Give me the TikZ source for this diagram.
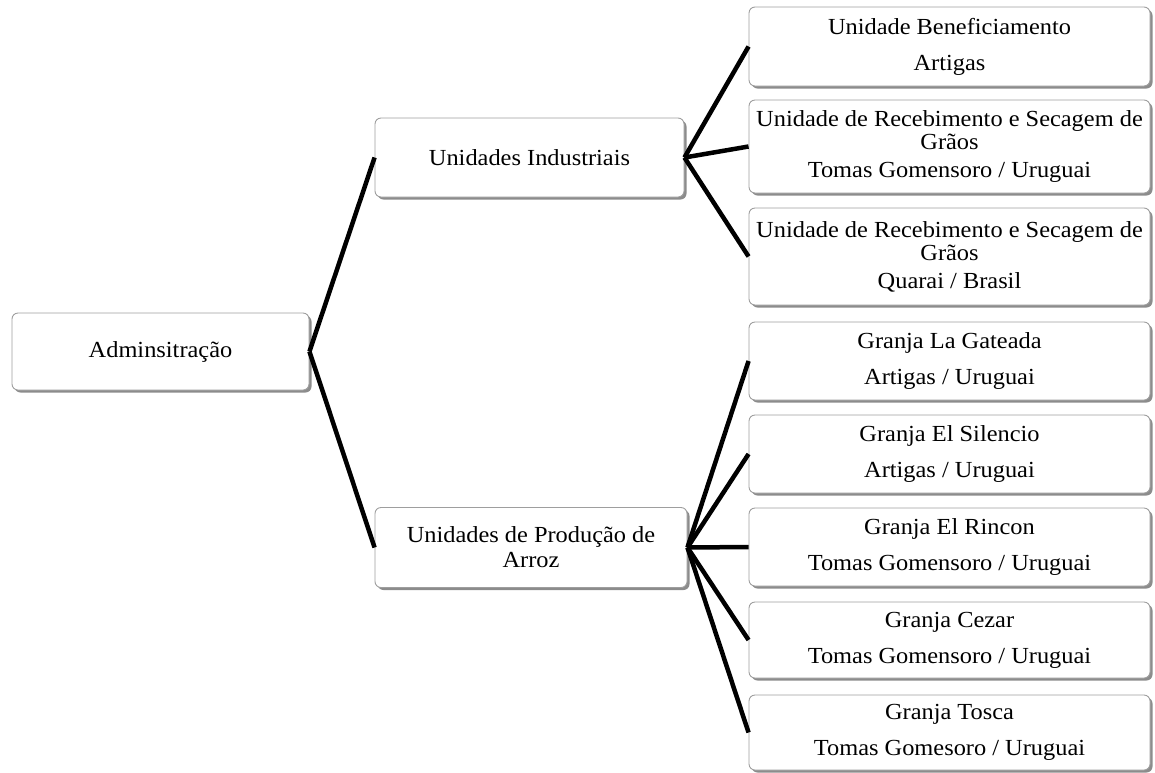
\documentclass[tikz,border=0pt]{standalone}
\usepackage{fontspec}
\usetikzlibrary{shadows}
\newfontfamily\bxfont[FakeStretch=1.06]{Liberation Serif}
\begin{document}
\begin{tikzpicture}[x=1pt,y=-1pt,
  box/.style={draw=black!38, line width=0.9pt, fill=white, rounded corners=6pt,
    drop shadow={shadow xshift=2.5pt, shadow yshift=-2.5pt, opacity=1, fill=black!45},
    inner sep=0pt, align=center, font=\bxfont\fontsize{23}{23}\selectfont},
  conn/.style={line width=4.5pt, black}]
\useasboundingbox (0,0) rectangle (1155,772);
\node[box, minimum width=297pt, minimum height=77pt] (adm) at (160.5,351.5) {Adminsitração};
\node[box, minimum width=309pt, minimum height=79pt] (ui) at (529.5,157.5) {Unidades Industriais};
\node[box, minimum width=312pt, minimum height=80pt] (up) at (531,547.5) {Unidades de Produção de\\[2pt]Arroz};
\tikzset{rb/.style={box, minimum width=401pt}}
\node[rb, minimum height=79pt] (b1) at (949.5,46.5) {Unidade Beneficiamento\\[13pt]Artigas};
\node[rb, minimum height=93pt] (b2) at (949.5,146.5) {Unidade de Recebimento e Secagem de\\Grãos\\[5pt]Tomas Gomensoro / Uruguai};
\node[rb, minimum height=97pt] (b3) at (949.5,256.5) {Unidade de Recebimento e Secagem de\\Grãos\\[5pt]Quarai / Brasil};
\node[rb, minimum height=78pt] (b4) at (949.5,361) {Granja La Gateada\\[13pt]Artigas / Uruguai};
\node[rb, minimum height=78pt] (b5) at (949.5,454) {Granja El Silencio\\[13pt]Artigas / Uruguai};
\node[rb, minimum height=78pt] (b6) at (949.5,547) {Granja El Rincon\\[13pt]Tomas Gomensoro / Uruguai};
\node[rb, minimum height=76pt] (b7) at (949.5,640) {Granja Cezar\\[13pt]Tomas Gomensoro / Uruguai};
\node[rb, minimum height=75pt] (b8) at (949.5,732.5) {Granja Tosca\\[13pt]Tomas Gomesoro / Uruguai};
\draw[conn] (adm.east) -- (ui.west);
\draw[conn] (adm.east) -- (up.west);
\foreach \t in {b1,b2,b3} \draw[conn] (ui.east) -- (\t.west);
\foreach \t in {b4,b5,b6,b7,b8} \draw[conn] (up.east) -- (\t.west);
\end{tikzpicture}
\end{document}
